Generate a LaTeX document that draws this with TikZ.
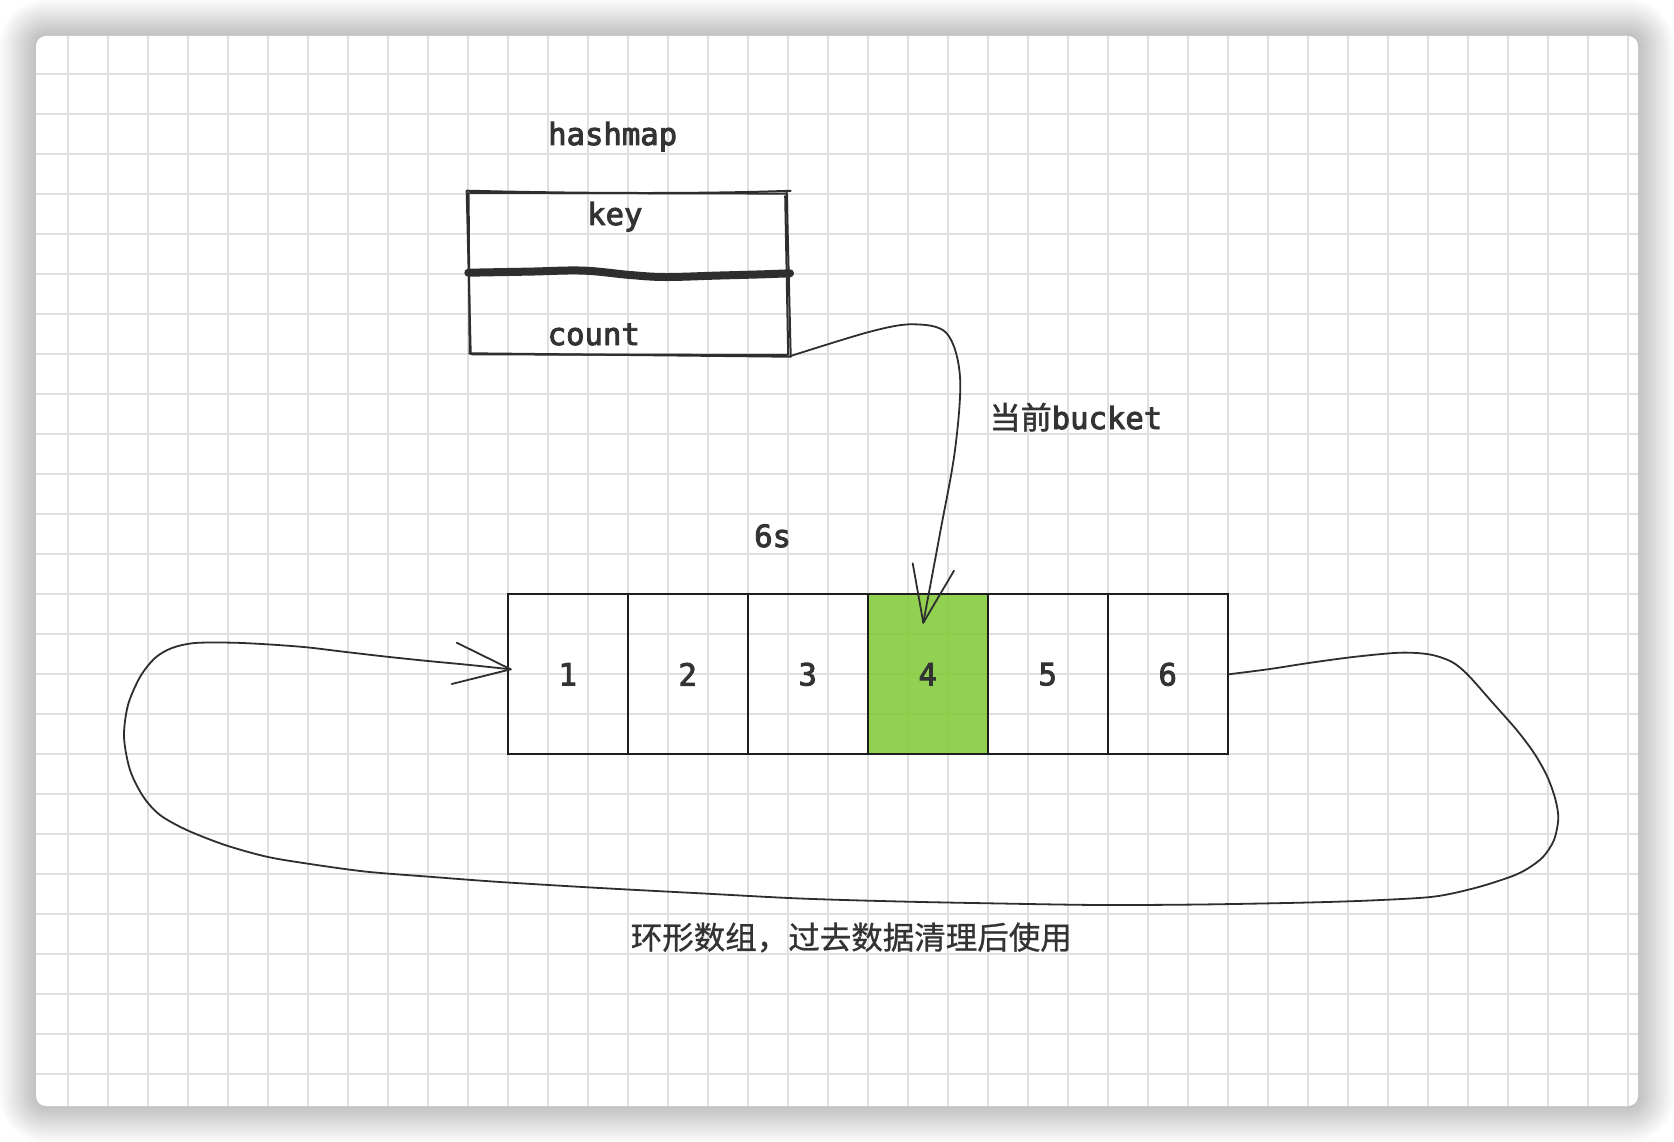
\documentclass[tikz,border=0pt]{standalone}
\usepackage{fontspec}
\newfontfamily\monof[FakeBold=3]{DejaVu Sans Mono}
\newfontfamily\cjkf[FakeBold=0.8]{Noto Sans CJK SC}
\newfontfamily\cjkfb[FakeBold=1.5]{Noto Sans CJK SC}
\definecolor{gridc}{HTML}{E0E0E0}
\definecolor{ink}{HTML}{2E2E2E}
\definecolor{cellink}{HTML}{1E1E1E}
\definecolor{txt}{HTML}{333333}
\definecolor{cellgreen}{HTML}{86CB3D}
\tikzset{
  gridline/.style={gridc, line width=1.8pt},
  cell/.style={draw=cellink, line width=2pt, minimum width=120pt, minimum height=160pt,
    inner sep=0pt, font=\monof\fontsize{30.6}{36}\selectfont, text=txt},
  hot/.style={fill=cellgreen, fill opacity=0.9, text opacity=1},
  lbl/.style={inner sep=0pt, font=\monof\fontsize{30.6}{36}\selectfont, text=txt},
  cjklbl/.style={inner sep=0pt, font=\cjkf\fontsize{31.5}{38}\selectfont, text=txt},
  sketch/.style={draw=ink, line width=2pt, line cap=round, line join=round},
  conn/.style={draw=ink, line width=1.8pt, line cap=round, line join=round},
}
\begin{document}
\begin{tikzpicture}[x=1pt,y=-1pt]
\useasboundingbox (0,0) rectangle (1674,1142);
\fill[white] (0,0) rectangle (1674,1142);
% shadow
\foreach \i in {1,...,12}{
  \pgfmathsetmacro\rr{10+3*\i}
  \fill[black, opacity=0.018, rounded corners=\rr pt] ({36-3*\i},{36-3*\i}) rectangle ({1638+3*\i},{1106+3*\i});
}
% card
\fill[white, rounded corners=10pt] (36,36) rectangle (1638,1106);
\begin{scope}
  \clip[rounded corners=10pt] (36,36) rectangle (1638,1106);
  \foreach \k in {0,...,39}{
    \draw[gridline] ({67.7+40*\k},36) -- ({67.7+40*\k},1106);
  }
  \foreach \k in {0,...,25}{
    \draw[gridline] (36,{74.3+40*\k}) -- (1638,{74.3+40*\k});
  }
\end{scope}

% hashmap box (sketchy)
\draw[sketch] (466.7,190.7) .. controls (580,193.5) and (700,194) .. (790.7,190.8);
\draw[sketch] (470,192.8) -- (786,193.6);
\draw[sketch] (466.7,191) -- (470.7,354);
\draw[sketch] (468.6,193) -- (469.6,352);
\draw[sketch] (786.7,192) -- (790.7,356.7);
\draw[sketch] (785.2,196) -- (788.2,355);
\draw[sketch] (469,353.3) -- (790.7,356.7);
\draw[sketch] (472,354.4) -- (787,354.9);
\draw[draw=ink, line width=8pt, line cap=round] plot[smooth, tension=0.6] coordinates
  {(468.3,272.7) (530,271.6) (583,270.6) (630,275) (665,277) (716.7,275.6) (760,274.4) (790,273.3)};
\coordinate (hmc) at (790.7,356);

% labels
\node[lbl, anchor=base west] (thash) at (548,145) {hashmap};
\node[lbl, anchor=base west] (tkey) at (587,225) {key};
\node[lbl, anchor=base west] (tcount) at (547.5,345) {count};
\node[lbl, anchor=base west] (tcur) at (989.5,429) {{\cjkfb\fontsize{31}{36}\selectfont 当前}bucket};
\node[lbl, anchor=base west] (t6s) at (754,547) {6s};
\node[cjklbl, anchor=center] (tring) at (851.3,937.5) {环形数组，过去数据清理后使用};

% cells
\node[cell] (c1) at (567.7,674.3) {1};
\node[cell] (c2) at (687.7,674.3) {2};
\node[cell] (c3) at (807.7,674.3) {3};
\node[cell, hot] (c4) at (927.7,674.3) {4};
\node[cell] (c5) at (1047.7,674.3) {5};
\node[cell] (c6) at (1167.7,674.3) {6};

% connector: hashmap -> current bucket
\coordinate (tip4) at (923.3,622.7);
\draw[conn] plot[smooth, tension=0.55] coordinates
  {(hmc) (870,331.7) (913.3,324.3) (946.7,333.3) (960,376.7) (955,450) (940,533.3) (tip4)};
\draw[conn] (tip4) -- ++(-10.6,-59.4);
\draw[conn] (tip4) -- ++(30.7,-52);

% ring connector: cell 6 -> cell 1
\coordinate (tip1) at (510.7,669.3);
\draw[conn] plot[smooth, tension=0.5] coordinates
  {(c6.east) (1270,669) (1306.7,663.3) (1353,657) (1400,652.7) (1430,654.5) (1452,662)
   (1468,675) (1492,702) (1516.7,730) (1534,753) (1547,776) (1555,798) (1558.3,818)
   (1554,840) (1543,857) (1527,869) (1510,877) (1475,888) (1433.3,896.7) (1370,900.5)
   (1300,902.7) (1200,904.5) (1100,905) (1000,903.5) (900,901.5) (800,898.5) (700,893.3)
   (600,888) (500,882) (433,877) (366.7,871.7) (310,864) (266.7,856.7) (225,845)
   (186.7,830) (160,815) (143.3,796.7) (130,770) (124,736.7) (128,705) (140,677)
   (155,658) (172,648) (195,643) (233.3,642.7) (270,644.5) (306.7,647.3) (346,652)
   (386.7,656.7) (428,661) (470,665) (tip1)};
\draw[conn] (tip1) -- ++(-54,-26.6);
\draw[conn] (tip1) -- ++(-59,14.7);
\end{tikzpicture}
\end{document}
